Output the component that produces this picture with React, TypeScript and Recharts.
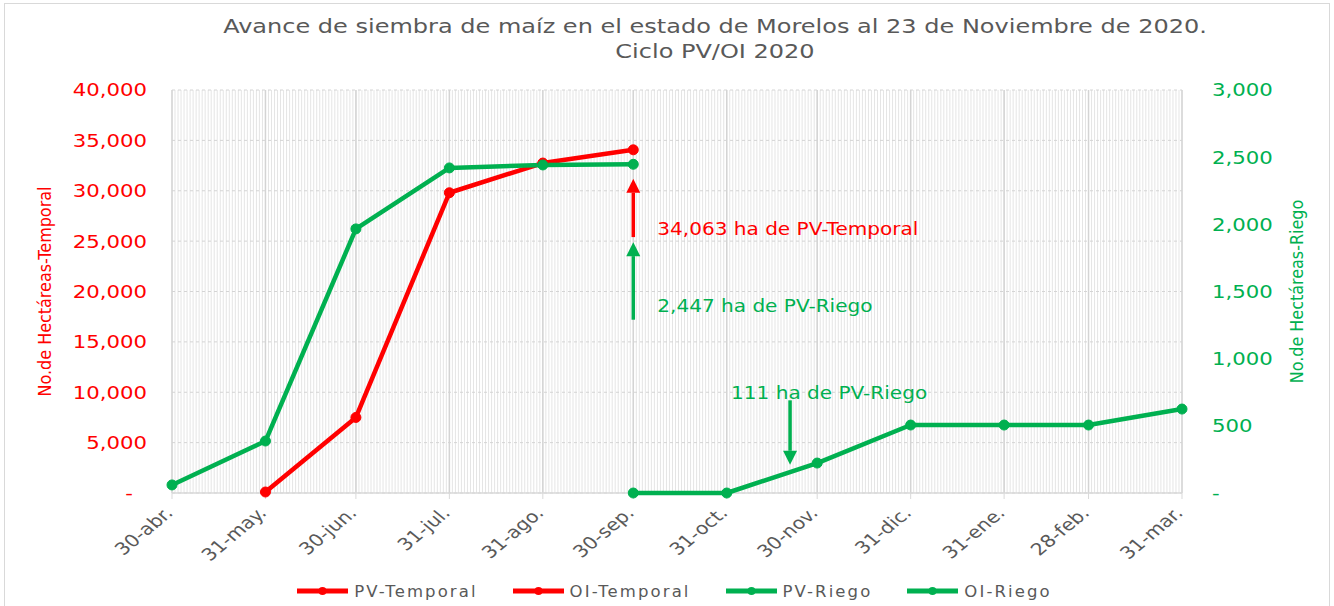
import React from 'react';
import { ComposedChart, Line, XAxis, YAxis, CartesianGrid, Legend, ReferenceLine } from 'recharts';

const RED = '#FF0000';
const GREEN = '#00B050';
const GRAY = '#595959';
const FONT = '"DejaVu Sans", sans-serif';
const STRETCH = 1.18;

// month-end dates on the x axis
const dates = [
  '2020-04-30', '2020-05-31', '2020-06-30', '2020-07-31', '2020-08-31', '2020-09-30',
  '2020-10-31', '2020-11-30', '2020-12-31', '2021-01-31', '2021-02-28', '2021-03-31',
];
const dateLabels = [
  '30-abr.', '31-may.', '30-jun.', '31-jul.', '31-ago.', '30-sep.',
  '31-oct.', '30-nov.', '31-dic.', '31-ene.', '28-feb.', '31-mar.',
];

// hectares, temporal (left axis)
const pvTemporal = [null, 100, 7500, 29800, 32750, 34063, null, null, null, null, null, null];
const oiTemporal = [null, null, null, null, null, null, null, null, null, null, null, null];
// hectares, riego (right axis)
const pvRiego = [60, 387, 1966, 2420, 2442, 2447, null, null, null, null, null, null];
const oiRiego = [null, null, null, null, null, 0, 0, 223, 506, 506, 506, 625];

const seriesNames = ['PV-Temporal', 'OI-Temporal', 'PV-Riego', 'OI-Riego'];
const seriesColors = [RED, RED, GREEN, GREEN];

const leftTicks = [0, 5000, 10000, 15000, 20000, 25000, 30000, 35000, 40000];
const rightTicks = [0, 500, 1000, 1500, 2000, 2500, 3000];

// arrows: date, start value, tip value (left axis units)
const annotations = [
  { date: '2020-09-30', from: 25400, to: 31200, text: '34,063 ha de PV-Temporal', color: RED },
  { date: '2020-09-30', from: 17200, to: 24900, text: '2,447 ha de PV-Riego', color: GREEN },
  { date: '2020-11-21', from: 9200, to: 2800, text: '111 ha de PV-Riego', color: GREEN },
];
const labelOffsets = [
  { dx: 24, dy: -8 },
  { dx: 24, dy: -14 },
  { dx: -59, dy: -7 },
];

const DAY = 86400000;
const toDay = (s: string) => {
  const [y, m, d] = s.split('-').map(Number);
  const [y0, m0, d0] = dates[0].split('-').map(Number);
  return Math.round((Date.UTC(y, m - 1, d) - Date.UTC(y0, m0 - 1, d0)) / DAY);
};

const majorTicks = dates.map(toDay);
const lastDay = majorTicks[majorTicks.length - 1];
const minorDays = Array.from({ length: lastDay + 1 }, (_, i) => i);

const data = dates.map((d, i) => ({
  day: toDay(d),
  pvTemporal: pvTemporal[i],
  oiTemporal: oiTemporal[i],
  pvRiego: pvRiego[i],
  oiRiego: oiRiego[i],
}));

// daily minor gridlines, placed with the axis scale when available
const dailyGrid = ({ xAxis, offset }: any) =>
  minorDays.map(d =>
    xAxis && typeof xAxis.scale === 'function' ? xAxis.scale(d) : offset.left + (d * offset.width) / lastDay,
  );
const baseline = ({ offset }: any) => [offset.top + offset.height];

const LeftTick = ({ x, y, payload }: any) => {
  const zero = payload.value === 0;
  return (
    <g transform={`translate(${x},${y})`}>
      <text transform={`scale(${STRETCH},1)`} x={zero ? -12 : 0} dy="0.36em" textAnchor="end" fill={RED} fontSize={18} fontFamily={FONT}>
        {zero ? '-' : payload.value.toLocaleString('en-US')}
      </text>
    </g>
  );
};

const RightTick = ({ x, y, payload }: any) => {
  const zero = payload.value === 0;
  return (
    <g transform={`translate(${x},${y})`}>
      <text transform={`scale(${STRETCH},1)`} dy="0.36em" textAnchor="start" fill={GREEN} fontSize={18} fontFamily={FONT}>
        {zero ? '-' : payload.value.toLocaleString('en-US')}
      </text>
    </g>
  );
};

const DateTick = ({ x, y, payload }: any) => {
  const idx = majorTicks.indexOf(payload.value);
  return (
    <g transform={`translate(${x + 2},${y + 13}) scale(1.2,1) rotate(-45)`}>
      <text textAnchor="end" fill={GRAY} fontSize={17} fontFamily={FONT}>
        {dateLabels[idx]}
      </text>
    </g>
  );
};

const AxisTitle = ({ viewBox, value, color, dx }: any) => {
  const cx = viewBox.x + dx;
  const cy = viewBox.y + viewBox.height / 2;
  return (
    <text transform={`translate(${cx},${cy}) scale(1.1,1) rotate(-90)`} textAnchor="middle" dominantBaseline="central" fill={color} fontSize={16} fontFamily={FONT}>
      {value}
    </text>
  );
};

const arrowShape = (color: string, text: string, off: { dx: number; dy: number }) => (props: any) => {
  const { x1, y1, x2, y2 } = props;
  const dir = y2 < y1 ? -1 : 1;
  const head = 14;
  return (
    <g>
      <line x1={x1} y1={y1} x2={x2} y2={y2 - dir * head} stroke={color} strokeWidth={3.5} />
      <polygon points={`${x2},${y2} ${x2 - 7},${y2 - dir * head} ${x2 + 7},${y2 - dir * head}`} fill={color} />
      <text
        transform={`translate(${x1 + off.dx},${y1 + off.dy}) scale(${STRETCH},1)`}
        dominantBaseline="central"
        fill={color}
        fontSize={17}
        fontFamily={FONT}
      >
        {text}
      </text>
    </g>
  );
};

const renderLegend = () => (
  <div style={{ display: 'flex', justifyContent: 'center', alignItems: 'center', gap: 35, height: 30, paddingTop: 6, paddingLeft: 15, fontFamily: FONT, fontSize: 16.5, color: GRAY, letterSpacing: 2.1 }}>
    {seriesNames.map((name, i) => (
      <div key={name} style={{ display: 'flex', alignItems: 'center' }}>
        <svg width={51} height={12}>
          <line x1={0} y1={6} x2={51} y2={6} stroke={seriesColors[i]} strokeWidth={5} />
          <circle cx={25.5} cy={6} r={4} fill={seriesColors[i]} />
        </svg>
        <span style={{ marginLeft: 6 }}>{name}</span>
      </div>
    ))}
  </div>
);

export default function App() {
  return (
    <div style={{ position: 'relative', width: 1334, height: 606, overflow: 'hidden', background: '#fff' }}>
      <style>{'body{margin:0}'}</style>
      <div style={{ position: 'absolute', left: 4, top: 3, width: 1324, height: 620, border: '1px solid #d9d9d9', pointerEvents: 'none' }} />
      <div
        style={{
          position: 'absolute', left: 0, top: 14, width: 1430, textAlign: 'center',
          fontFamily: FONT, fontSize: 20, lineHeight: '25px', color: GRAY,
          transform: 'scaleX(1.2)', transformOrigin: 'center',
        }}
      >
        Avance de siembra de maíz en el estado de Morelos al 23 de Noviembre de 2020.
        <br />
        Ciclo PV/OI 2020
      </div>
      <ComposedChart width={1334} height={606} data={data} margin={{ top: 90, right: 0, bottom: 0, left: 0 }}>
        <XAxis
          xAxisId="main"
          type="number"
          dataKey="day"
          domain={[0, lastDay]}
          ticks={majorTicks}
          interval={0}
          tick={<DateTick />}
          tickSize={6}
          tickMargin={2}
          tickLine={{ stroke: '#d9d9d9' }}
          axisLine={false}
          height={77}
        />
        <YAxis
          yAxisId="left"
          orientation="left"
          domain={[0, 40000]}
          ticks={leftTicks}
          interval={0}
          width={172}
          tickLine={false}
          axisLine={false}
          tickSize={6}
          tickMargin={19}
          tick={<LeftTick />}
          label={<AxisTitle value="No.de Hectáreas-Temporal" color={RED} dx={45} />}
        />
        <YAxis
          yAxisId="right"
          orientation="right"
          domain={[0, 3000]}
          ticks={rightTicks}
          interval={0}
          width={152}
          tickLine={false}
          axisLine={false}
          tickSize={6}
          tickMargin={24}
          tick={<RightTick />}
          label={<AxisTitle value="No.de Hectáreas-Riego" color={GREEN} dx={115} />}
        />
        <CartesianGrid xAxisId="main" yAxisId="left" horizontal={false} stroke="#e5e5e5" verticalCoordinatesGenerator={dailyGrid} />
        <CartesianGrid xAxisId="main" yAxisId="left" horizontal={false} stroke="#d4d4d4" strokeWidth={1.5} />
        <CartesianGrid xAxisId="main" yAxisId="left" vertical={false} stroke="#d4d4d4" strokeDasharray="3 3" />
        <CartesianGrid xAxisId="main" yAxisId="left" vertical={false} stroke="#d9d9d9" strokeWidth={1.5} horizontalCoordinatesGenerator={baseline} />
        <Legend verticalAlign="bottom" height={36} content={renderLegend} />
        <Line xAxisId="main" yAxisId="left" dataKey="pvTemporal" name="PV-Temporal" stroke={RED} strokeWidth={4.5} strokeLinejoin="round" dot={{ r: 5, fill: RED, stroke: RED, strokeWidth: 1 }} isAnimationActive={false} />
        <Line xAxisId="main" yAxisId="left" dataKey="oiTemporal" name="OI-Temporal" stroke={RED} strokeWidth={4.5} strokeLinejoin="round" dot={{ r: 5, fill: RED, stroke: RED, strokeWidth: 1 }} isAnimationActive={false} />
        <Line xAxisId="main" yAxisId="right" dataKey="pvRiego" name="PV-Riego" stroke={GREEN} strokeWidth={4.5} strokeLinejoin="round" dot={{ r: 5, fill: GREEN, stroke: GREEN, strokeWidth: 1 }} isAnimationActive={false} />
        <Line xAxisId="main" yAxisId="right" dataKey="oiRiego" name="OI-Riego" stroke={GREEN} strokeWidth={4.5} strokeLinejoin="round" dot={{ r: 5, fill: GREEN, stroke: GREEN, strokeWidth: 1 }} isAnimationActive={false} />
        {annotations.map((a, i) => (
          <ReferenceLine
            key={i}
            xAxisId="main"
            yAxisId="left"
            segment={[{ x: toDay(a.date), y: a.from }, { x: toDay(a.date), y: a.to }]}
            shape={arrowShape(a.color, a.text, labelOffsets[i])}
          />
        ))}
      </ComposedChart>
    </div>
  );
}
